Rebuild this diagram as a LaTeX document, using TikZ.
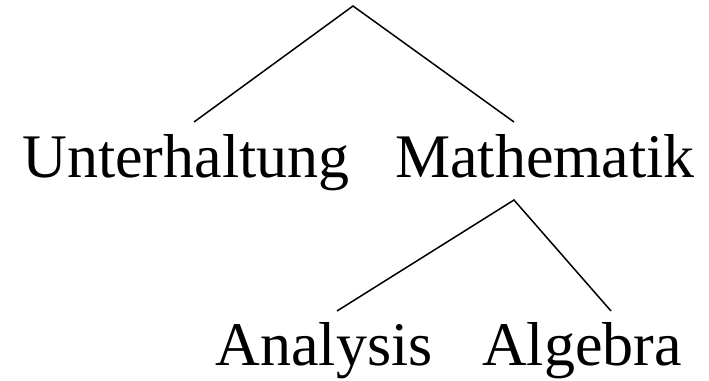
\documentclass[tikz,border=0pt]{standalone}
\usepackage{fontspec}
\setmainfont{Liberation Serif}
\begin{document}
\begin{tikzpicture}[x=1pt,y=-1pt,
  lbl/.style={anchor=base,inner sep=0pt,font=\fontsize{62}{70}\selectfont},
  edge/.style={line width=1.5pt}]
\useasboundingbox (0,0) rectangle (709,380);
\coordinate (root) at (353,6);
\node[lbl] (unt) at (186,177) {Unterhaltung};
\node[lbl] (mat) at (545,177) {Mathematik};
\node[lbl] (ana) at (324,365) {Analysis};
\node[lbl] (alg) at (582,365) {Algebra};
\coordinate (untTop) at (194,122);
\coordinate (matTop) at (514,122);
\coordinate (matBot) at (514,200);
\coordinate (anaTop) at (337,311);
\coordinate (algTop) at (611,311);
\draw[edge] (untTop) -- (root) -- (matTop);
\draw[edge] (anaTop) -- (matBot) -- (algTop);
\end{tikzpicture}
\end{document}
